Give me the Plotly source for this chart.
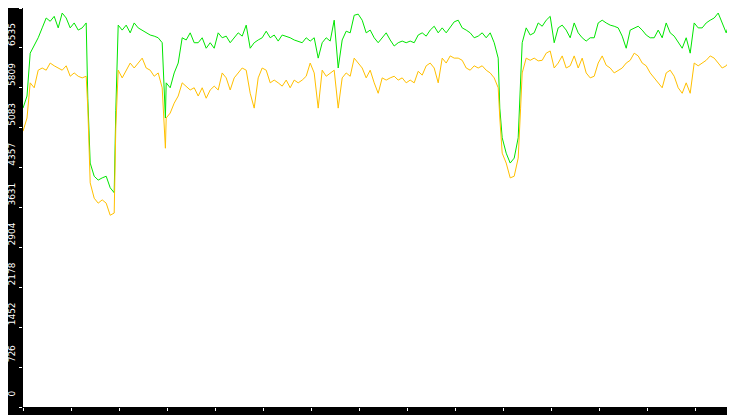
import pandas as pd
import plotly.graph_objects as go

# seconds after 14:00:00
secs = ([0, 5, 9, 14, 19, 24, 29, 34, 39, 44, 49, 54, 59, 64, 69, 74, 79, 81, 84, 89,
         94, 99, 104, 109, 114, 116, 119, 124, 129, 134, 139, 144, 149, 154, 159, 164,
         169, 174, 178, 179]
        + list(range(184, 590, 5))
        + [594, 596, 599, 604, 609, 614, 619, 622]
        + list(range(624, 900, 5)))

green = [5440, 5660, 6440, 6570, 6720, 6900, 7080, 7020, 7110, 6900, 7170, 7080, 6900, 6990,
         6860, 6900, 6990, 5620, 4440, 4200, 4130, 4170, 4200, 3990, 3900, 5400, 6950, 6860,
         6950, 6810, 6990, 6900, 6860, 6810, 6770, 6750, 6720, 6630, 5260, 5900,
         5810, 6080, 6260, 6720, 6680, 6810, 6630, 6630, 6720, 6530, 6630, 6530, 6810, 6720,
         6750, 6630, 6720, 6810, 6750, 6950, 6530, 6630,
         6680, 6720, 6840, 6720, 6770, 6660, 6770, 6750, 6720, 6680,
         6660, 6630, 6720, 6660, 6720, 6350, 6630, 6720, 6660, 7040,
         6170, 6680, 6840, 6810, 7130, 7150, 7040, 6810, 6860, 6720,
         6630, 6720, 6810, 6680, 6570, 6630, 6660, 6630, 6660, 6630,
         6770, 6810, 6750, 6860, 6930, 6810, 6900, 6810, 6900, 7010,
         7040, 6900, 6860, 6810, 6720, 6750, 6810, 6720, 6810, 6630,
         6350, 5440, 4900, 4620, 4440, 4530, 4900, 5810,
         6630, 6900, 6770, 6810, 6990, 6930, 7040, 7110, 6630, 6900,
         6950, 6860, 6720, 6990, 6810, 6720, 6660, 6720, 6720, 6990,
         7040, 6990, 6950, 6930, 6900, 6750, 6530, 6860, 6900, 6930,
         6860, 6770, 6720, 6720, 6860, 6720, 6990, 6810, 6750, 6630,
         6530, 6720, 6440, 6990, 6900, 6900, 6990, 7040, 7080, 7170,
         6990, 6810, 7040, 7080, 7110, 2950]

orange = [5020, 5260, 5900, 5810, 6130, 6170, 6130, 6260, 6210, 6170, 6130, 6210, 6020, 6080,
          6020, 5990, 6020, 5440, 4080, 3800, 3710, 3770, 3710, 3490, 3530, 5080, 6130, 5990,
          6130, 6260, 6170, 6260, 6350, 6170, 6130, 6020, 6080, 5810, 4710, 5260,
          5350, 5530, 5660, 5900, 5840, 5770, 5810, 5660, 5810, 5620, 5770, 5840, 5770, 6080,
          5990, 5770, 5990, 6080, 6170, 6130, 5710, 5440,
          5990, 6170, 6130, 5900, 5950, 5900, 5840, 5950, 5810, 5950,
          5900, 5950, 6020, 6260, 6080, 5440, 6130, 6020, 6080, 6130,
          5440, 5990, 6080, 6020, 6350, 6260, 6170, 5990, 6130, 5900,
          5710, 5990, 5950, 5990, 6020, 5950, 5990, 5900, 5950, 5900,
          6110, 6040, 6210, 6260, 6170, 5900, 6350, 6260, 6390, 6350,
          6350, 6310, 6170, 6130, 6210, 6170, 6210, 6130, 6080, 5990,
          5810, 5260, 4620, 4440, 4170, 4200, 4530, 5440,
          6080, 6350, 6310, 6350, 6300, 6310, 6440, 6480, 6170, 6260,
          6390, 6170, 6210, 6390, 6170, 6350, 6080, 5990, 6020, 6260,
          6390, 6220, 6170, 6080, 6130, 6170, 6260, 6310, 6440, 6390,
          6260, 6210, 6080, 5990, 5900, 5810, 6080, 6130, 6020, 5810,
          5710, 5900, 5710, 6260, 6210, 6260, 6310, 6390, 6350, 6260,
          6170, 6210, 6310, 6260, 6440, 0]

y_ticks = [0, 726, 1452, 2178, 2904, 3631, 4357, 5083, 5809, 6535, 7262]

times = pd.Timestamp("2024-01-01 14:00:00") + pd.to_timedelta(secs, unit="s")

fig = go.Figure()
fig.add_trace(go.Scatter(x=times, y=green, mode="lines", line=dict(color="#00e600", width=1)))
fig.add_trace(go.Scatter(x=times, y=orange, mode="lines", line=dict(color="#ffc000", width=1)))

fig.update_layout(
    width=735, height=415,
    margin=dict(l=15, r=0, t=0, b=16),
    paper_bgcolor="black", plot_bgcolor="white",
    showlegend=False,
    font=dict(family="DejaVu Sans", size=9, color="white"),
)
fig.update_xaxes(
    range=["2024-01-01 14:00:00", "2024-01-01 14:15:00"],
    dtick=60000, tickformat="%H:%M", showgrid=False, zeroline=False,
    ticks="outside", ticklen=3, tickcolor="white", automargin=False,
    ticklabelstandoff=0,
)
fig.update_yaxes(
    range=[0, 7262], tickvals=y_ticks, tickangle=-90, showgrid=False, zeroline=False,
    ticks="outside", ticklen=3, tickcolor="white", automargin=False,
    ticklabelshift=-12, ticklabelstandoff=0,
)
fig.write_html("out.html")
